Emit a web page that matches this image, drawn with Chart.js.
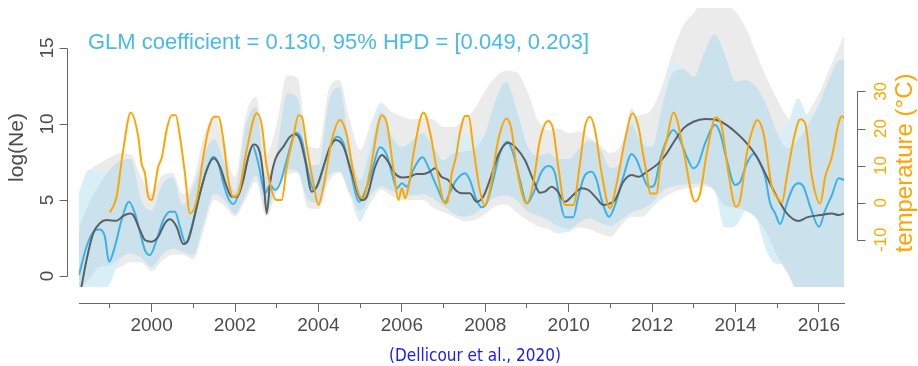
<!DOCTYPE html>
<html>
<head>
<meta charset="utf-8">
<title>log(Ne) and temperature</title>
<script src="https://cdn.jsdelivr.net/npm/chart.js@4.4.1/dist/chart.umd.min.js"></script>
<style>
	html, body { margin: 0; padding: 0; background: #fff; }
	#wrap { width: 918px; height: 366px; }
</style>
</head>
<body>
<div id="wrap"><canvas id="ne-chart" width="918" height="366"></canvas></div>
<script>
/**
 * log(Ne) skyline vs. temperature, R-style axes drawn next to the plot box.
 */
'use strict';

// Shared x positions of the HPD bands.
var bandYears = [
	1998.26, 1998.5, 1998.75, 1999, 1999.25, 1999.5, 1999.75, 2000, 2000.25, 2000.5, 2000.75,
	2001, 2001.25, 2001.5, 2001.75, 2002, 2002.25, 2002.5, 2002.75, 2003, 2003.25, 2003.5, 2003.75,
	2004, 2004.25, 2004.5, 2004.75, 2005, 2005.25, 2005.5, 2005.75, 2006, 2006.25, 2006.5, 2006.75,
	2007, 2007.25, 2007.5, 2007.75, 2008, 2008.25, 2008.5, 2008.75, 2009, 2009.25, 2009.5, 2009.75,
	2010, 2010.25, 2010.5, 2010.75, 2011, 2011.25, 2011.5, 2011.75, 2012, 2012.25, 2012.5, 2012.75,
	2013, 2013.25, 2013.5, 2013.75, 2014, 2014.25, 2014.5, 2014.75, 2015, 2015.25, 2015.5, 2015.75,
	2016, 2016.25, 2016.5, 2016.6
];
var greyUpper = [
	4.5, 6.8, 7.4, 7.8, 8.1, 8.0, 6.5, 5.5, 6.6, 6.8, 5.4,
	6.3, 9.2, 10.6, 8.5, 6.5, 10.5, 11.8, 8.0, 10.0, 13.2, 13.0, 8.6,
	8.4, 12.3, 12.9, 10.3, 8.3, 10.0, 11.4, 10.8, 10.5, 10.3, 10.4, 10.3,
	9.8, 9.8, 10.3, 11.0, 12.2, 13.1, 13.5, 13.4, 12.2, 10.3, 9.6, 9.7,
	9.4, 9.5, 9.1, 8.6, 8.1, 8.6, 10.4, 10.6, 11.0, 12.6, 14.8, 16.5,
	17.3, 18.2, 18.2, 17.8, 17.4, 16.3, 14.6, 13.0, 11.6, 10.4, 9.8, 10.8,
	12.0, 13.6, 15.2, 15.8
];
var greyLower = [
	-1.0, -1.0, -0.3, 0.3, 0.6, 0.9, 0.9, 0.3, 1.0, 1.4, 1.4,
	1.1, 3.0, 5.0, 4.6, 3.9, 5.0, 6.2, 3.9, 5.5, 6.7, 6.8, 4.5,
	4.4, 6.2, 6.8, 5.3, 3.7, 4.8, 5.7, 5.3, 5.0, 5.0, 5.0, 4.5,
	4.2, 3.9, 3.6, 3.7, 4.1, 4.6, 4.7, 4.2, 3.7, 3.3, 3.1, 2.8,
	3.0, 3.2, 3.1, 2.8, 2.6, 3.3, 3.9, 3.9, 4.5, 5.1, 5.5, 5.75,
	5.8, 5.9, 5.7, 5.4, 5.0, 4.5, 3.9, 2.9, 2.0, 1.5, 0.2, -1.0,
	-1.0, -1.0, -1.0, -1.0
];
var cyanUpper = [
	5.5, 7.0, 6.8, 7.0, 7.6, 7.7, 5.0, 4.3, 6.0, 6.5, 4.7,
	5.9, 7.9, 9.0, 7.4, 5.6, 9.8, 11.1, 6.5, 8.2, 12.0, 11.7, 7.3,
	7.3, 11.5, 12.4, 8.6, 6.3, 9.5, 11.3, 9.6, 8.5, 8.9, 9.4, 8.5,
	7.6, 9.0, 9.4, 9.2, 9.4, 11.6, 12.8, 11.0, 8.6, 7.9, 8.1, 7.7,
	7.7, 8.4, 8.9, 8.4, 7.1, 7.5, 11.0, 9.5, 8.5, 11.6, 14.1, 13.6,
	13.1, 14.7, 15.9, 14.5, 12.8, 12.9, 12.4, 11.2, 9.4, 10.0, 11.7, 10.5,
	11.3, 13.0, 14.2, 14.2
];
var cyanLower = [
	-1.0, -1.0, -1.0, -0.5, 1.2, 1.5, 1.2, 0.6, 1.4, 1.8, 1.6,
	1.4, 3.5, 5.4, 5.0, 4.1, 5.3, 6.6, 4.3, 5.9, 7.0, 6.9, 5.0,
	4.8, 6.6, 6.9, 5.5, 3.6, 5.3, 5.9, 5.6, 5.4, 5.3, 5.4, 5.1,
	4.6, 4.1, 3.9, 4.1, 4.7, 5.2, 5.3, 5.0, 4.3, 4.0, 3.7, 3.0,
	2.9, 3.5, 3.8, 3.5, 3.3, 3.7, 4.2, 4.4, 4.8, 5.6, 5.9, 6.0,
	6.05, 6.1, 5.6, 3.2, 3.3, 4.3, 3.8, 1.6, 0.8, 0.8, -1.0, -1.0,
	-1.0, -1.0, -1.0, -1.0
];
var blueUpper = [
	3.2, 4.8, 6.0, 7.0, 7.6, 7.7, 5.0, 4.3, 6.0, 6.5, 4.7,
	5.9, 7.9, 9.0, 7.4, 5.6, 9.8, 11.1, 6.5, 8.2, 12.0, 11.7, 7.3,
	7.3, 11.5, 12.4, 8.6, 6.3, 8.4, 10.8, 9.2, 8.5, 8.9, 9.4, 8.5,
	7.6, 8.1, 8.2, 8.4, 9.4, 11.6, 12.8, 11.0, 8.6, 7.9, 8.1, 7.7,
	7.7, 8.4, 8.9, 8.4, 7.1, 7.5, 10.0, 8.7, 8.5, 11.3, 13.4, 13.6,
	13.1, 14.7, 15.9, 14.5, 12.8, 12.9, 12.4, 11.2, 9.4, 8.4, 9.0, 10.0,
	11.3, 13.0, 14.2, 14.2
];
var blueLower = [
	-1.0, -0.2, 0.6, 0.7, 1.2, 1.5, 1.2, 0.6, 1.4, 1.8, 1.6,
	1.4, 3.5, 5.4, 5.0, 4.1, 5.3, 6.6, 4.3, 5.9, 7.0, 6.9, 5.0,
	4.8, 6.6, 6.9, 5.5, 4.3, 5.3, 5.9, 5.6, 5.4, 5.3, 5.4, 5.1,
	4.6, 4.1, 3.9, 4.1, 4.7, 5.2, 5.3, 5.0, 4.3, 4.0, 3.7, 3.3,
	3.1, 3.5, 3.8, 3.5, 3.3, 3.7, 4.2, 4.4, 4.8, 5.6, 5.9, 6.0,
	6.05, 6.1, 5.6, 4.6, 4.5, 4.3, 3.8, 2.8, 1.3, 0.2, -1.0, -1.0,
	-1.0, -1.0, -1.0, -1.0
];

// Median log(Ne), light blue line.
var blueYears = [
	1998.26, 1998.44, 1998.64, 1998.76, 1998.88, 1998.98, 1999.12, 1999.28, 1999.46, 1999.6,
	1999.72, 1999.84, 1999.96, 2000.12, 2000.28, 2000.44, 2000.56, 2000.68, 2000.82, 2000.92,
	2001.12, 2001.32, 2001.48, 2001.6, 2001.72, 2001.84, 2001.96, 2002.12, 2002.28, 2002.42,
	2002.56, 2002.72, 2002.84, 2002.96, 2003.08, 2003.24, 2003.4, 2003.46, 2003.6, 2003.76,
	2003.89, 2004, 2004.2, 2004.45, 2004.6, 2004.76, 2004.98, 2005.16, 2005.31, 2005.47,
	2005.64, 2005.76, 2005.88, 2006, 2006.12, 2006.27, 2006.5, 2006.63, 2006.84, 2007.03,
	2007.15, 2007.31, 2007.51, 2007.63, 2007.79, 2007.91, 2008.03, 2008.19, 2008.35, 2008.53,
	2008.67, 2008.83, 2009, 2009.15, 2009.35, 2009.51, 2009.67, 2009.79, 2009.91, 2010.11,
	2010.23, 2010.39, 2010.55, 2010.67, 2010.79, 2010.97, 2011.11, 2011.31, 2011.51, 2011.63,
	2011.75, 2011.91, 2011.99, 2012.07, 2012.19, 2012.35, 2012.51, 2012.67, 2012.83, 2012.99,
	2013.11, 2013.27, 2013.51, 2013.63, 2013.79, 2013.99, 2014.11, 2014.27, 2014.43, 2014.55,
	2014.71, 2014.83, 2014.95, 2015.07, 2015.23, 2015.39, 2015.51, 2015.63, 2015.79, 2016,
	2016.15, 2016.31, 2016.47, 2016.6
];
var blueLine = [
	0.07, 1.93, 3.0, 3.07, 2.6, 0.94, 1.93, 3.68, 4.89, 4.12,
	2.91, 1.71, 1.38, 2.37, 3.68, 4.23, 4.23, 3.24, 2.15, 2.81,
	5.0, 6.97, 7.85, 7.41, 6.1, 5.11, 4.74, 5.66, 7.41, 8.55,
	7.4, 5.44, 5.99, 5.66, 6.1, 7.63, 9.17, 9.43, 8.95, 6.76,
	5.66, 6.1, 7.85, 9.17, 8.73, 6.97, 4.89, 5.88, 7.19, 8.47,
	7.96, 6.76, 5.77, 6.1, 5.88, 6.97, 7.81, 7.19, 5.88, 4.85,
	5.5, 6.32, 6.76, 6.32, 5.0, 4.52, 4.78, 6.32, 8.07, 8.84,
	8.07, 6.32, 4.78, 5.44, 6.86, 7.24, 6.76, 5.0, 3.86, 3.86,
	5.22, 6.64, 6.86, 6.32, 5.0, 3.9, 4.67, 6.53, 8.03, 7.63,
	6.8, 5.88, 5.88, 6.1, 7.63, 8.95, 9.6, 8.95, 7.85, 7.09,
	7.41, 8.73, 9.93, 9.39, 7.63, 5.99, 6.2, 7.41, 8.03, 7.63,
	6.53, 4.78, 4.12, 3.42, 4.78, 5.88, 6.1, 5.88, 4.56, 3.24,
	4.34, 5.33, 6.43, 6.32
];

// Second log(Ne) estimate, dark grey line.
var greyYears = [
	1998.26, 1998.44, 1998.6, 1998.76, 1998.92, 1999.16, 1999.32, 1999.48, 1999.56, 1999.72,
	1999.84, 2000, 2000.16, 2000.32, 2000.44, 2000.6, 2000.76, 2000.88, 2001, 2001.16,
	2001.32, 2001.49, 2001.64, 2001.8, 2001.92, 2002.04, 2002.2, 2002.32, 2002.44, 2002.6,
	2002.68, 2002.76, 2002.84, 2002.96, 2003.16, 2003.32, 2003.44, 2003.56, 2003.68, 2003.84,
	2003.96, 2004.12, 2004.28, 2004.42, 2004.6, 2004.8, 2005.04, 2005.16, 2005.36, 2005.52,
	2005.67, 2005.83, 2006, 2006.19, 2006.35, 2006.51, 2006.67, 2006.79, 2006.95, 2007.11,
	2007.31, 2007.47, 2007.63, 2007.79, 2007.95, 2008.11, 2008.31, 2008.55, 2008.75, 2008.95,
	2009.15, 2009.31, 2009.43, 2009.59, 2009.71, 2009.91, 2010.11, 2010.31, 2010.47, 2010.67,
	2010.83, 2010.99, 2011.11, 2011.31, 2011.51, 2011.67, 2011.87, 2012.15, 2012.35, 2012.55,
	2012.75, 2012.99, 2013.27, 2013.55, 2013.79, 2014.03, 2014.27, 2014.51, 2014.75, 2014.99,
	2015.23, 2015.51, 2015.71, 2016.03, 2016.31, 2016.47, 2016.6
];
var greyLine = [
	-1.6, 1.05, 2.81, 3.47, 3.68, 3.64, 3.95, 4.12, 4.01, 3.03,
	2.37, 2.26, 2.59, 3.47, 3.73, 3.24, 2.1, 2.37, 3.57, 5.44,
	6.97, 7.74, 7.19, 5.88, 5.22, 5.22, 6.32, 7.85, 8.66, 8.07,
	6.5, 4.12, 6.1, 7.63, 8.51, 9.17, 9.32, 8.95, 7.63, 5.55,
	5.88, 7.19, 8.51, 8.95, 8.51, 6.76, 5.0, 5.22, 7.19, 7.96,
	7.52, 6.76, 6.49, 6.53, 6.71, 6.71, 6.86, 7.09, 6.53, 6.32,
	5.6, 5.44, 5.44, 4.89, 5.22, 6.32, 7.96, 8.77, 8.4, 7.63,
	6.32, 5.48, 5.55, 5.88, 5.66, 4.89, 5.33, 5.77, 5.66, 5.11,
	4.67, 4.78, 5.0, 6.2, 6.64, 6.53, 6.85, 7.41, 8.07, 8.95,
	9.71, 10.15, 10.33, 10.26, 9.93, 9.39, 8.73, 7.85, 6.53, 5.22,
	4.12, 3.62, 3.86, 4.01, 4.12, 4.01, 4.12
];

// Monthly-ish temperature (°C), orange line on the right axis.
var tempYears = [
	1999, 1999.16, 1999.32, 1999.5, 1999.68, 1999.76, 1999.84, 1999.92, 2000, 2000.16,
	2000.25, 2000.36, 2000.48, 2000.58, 2000.68, 2000.8, 2000.92, 2001.08, 2001.24, 2001.36,
	2001.5, 2001.6, 2001.72, 2001.84, 2001.96, 2002.08, 2002.28, 2002.52, 2002.64, 2002.76,
	2003, 2003.12, 2003.24, 2003.4, 2003.52, 2003.6, 2003.72, 2003.88, 2004, 2004.12,
	2004.32, 2004.52, 2004.68, 2004.84, 2005, 2005.07, 2005.24, 2005.52, 2005.64, 2005.8,
	2005.92, 2006, 2006.08, 2006.16, 2006.28, 2006.52, 2006.68, 2006.84, 2007.04, 2007.1,
	2007.2, 2007.3, 2007.39, 2007.52, 2007.6, 2007.71, 2007.87, 2007.99, 2008.11, 2008.31,
	2008.51, 2008.63, 2008.75, 2008.99, 2009.15, 2009.31, 2009.51, 2009.63, 2009.75, 2009.91,
	2010.11, 2010.27, 2010.39, 2010.51, 2010.63, 2010.79, 2010.99, 2011.15, 2011.35, 2011.53,
	2011.67, 2011.8, 2011.87, 2011.95, 2012.11, 2012.19, 2012.35, 2012.51, 2012.6, 2012.75,
	2013.03, 2013.15, 2013.31, 2013.53, 2013.67, 2013.83, 2014.01, 2014.11, 2014.27, 2014.43,
	2014.52, 2014.67, 2014.87, 2014.99, 2015.11, 2015.23, 2015.39, 2015.55, 2015.67, 2015.83,
	2016.03, 2016.15, 2016.31, 2016.47, 2016.55, 2016.6
];
var tempValues = [
	-2.7, 1.6, 14.2, 24.3, 17.8, 10.6, 7.9, 1.6, 0.7, 9.7,
	12.4, 19.6, 23.6, 23.6, 17.8, 7.9, -2.9, 0.7, 12.4, 19.6,
	23.2, 23.2, 16.9, 6.1, 1.6, 2.5, 14.2, 24.1, 21.0, 9.7,
	0.7, 0.7, 9.7, 17.8, 23.6, 23.2, 15.1, 5.2, -0.6, 4.3,
	16.9, 22.3, 18.2, 7.9, 1.6, 1.2, 8.8, 23.6, 21.4, 8.8,
	0.7, 3.9, 1.2, 4.3, 13.3, 24.3, 18.7, 8.8, -0.2, 0.5,
	8.0, 12.5, 18.7, 23.4, 23.4, 15.1, 3.4, -0.8, 3.4, 16.9,
	22.7, 19.6, 9.7, -0.2, 5.2, 16.9, 22.0, 19.6, 9.7, -0.6,
	-0.6, 10.6, 20.5, 23.2, 19.6, 7.9, -1.5, 5.2, 16.9, 24.1,
	20.5, 12.0, 7.9, 2.5, 2.5, 9.7, 16.9, 24.3, 22.3, 14.2,
	0.3, 2.5, 13.3, 23.0, 20.5, 7.9, -1.1, 0.7, 13.3, 20.5,
	22.3, 18.7, 4.3, 1.6, 0.0, 7.0, 16.9, 22.5, 21.4, 7.0,
	-0.2, 7.0, 12.4, 21.4, 23.4, 22.7
];

// Axes.
var tickYears  = [1999, 2000, 2001, 2002, 2003, 2004, 2005, 2006, 2007, 2008, 2009, 2010, 2011, 2012, 2013, 2014, 2015, 2016];
var labelYears = [2000, 2002, 2004, 2006, 2008, 2010, 2012, 2014, 2016];
var neTicks    = [0, 5, 10, 15];
var tempTicks  = [-10, 0, 10, 20, 30];

var glmText    = 'GLM coefficient = 0.130, 95% HPD = [0.049, 0.203]';
var sourceText = '(Dellicour et al., 2020)';

var FONT = '"Liberation Sans", Arial, Helvetica, sans-serif';
var AXIS_GREY = '#666666';
var TEXT_GREY = '#4d4d4d';
var ORANGE = '#ffa500';
var SKY = '#3db1e3';

function pts(xs, ys) {
	return xs.map(function (x, i) { return { x: x, y: ys[i] }; });
}

function band(label, ys, color, order, target) {
	return {
		label: label,
		data: pts(bandYears, ys),
		xAxisID: 'x',
		yAxisID: 'y',
		borderWidth: 0,
		borderColor: 'rgba(0,0,0,0)',
		backgroundColor: color,
		pointRadius: 0,
		cubicInterpolationMode: 'monotone',
		fill: target === undefined ? false : { target: target },
		order: order,
	};
}

function line(label, xs, ys, color, axis, order) {
	return {
		label: label,
		data: pts(xs, ys),
		xAxisID: 'x',
		yAxisID: axis,
		borderColor: color,
		borderWidth: 2,
		pointRadius: 0,
		cubicInterpolationMode: 'monotone',
		fill: false,
		order: order,
	};
}

function vText(ctx, text, x, y) {
	ctx.save();
	ctx.translate(x, y);
	ctx.rotate(-Math.PI / 2);
	ctx.fillText(text, 0, 0);
	ctx.restore();
}

function sideAxis(ctx, scale, ticks, x, dir) {
	var lo = Math.round(scale.getPixelForValue(ticks[0])) + 0.5;
	var hi = Math.round(scale.getPixelForValue(ticks[ticks.length - 1])) + 0.5;
	ctx.beginPath();
	ctx.moveTo(x, lo);
	ctx.lineTo(x, hi);
	ticks.forEach(function (v) {
		var py = Math.round(scale.getPixelForValue(v)) + 0.5;
		ctx.moveTo(x, py);
		ctx.lineTo(x + dir * 8, py);
	});
	ctx.stroke();
}

// R-style side axes (offset from the plot box, spanning only the ticks) + texts.
var sideAxes = {
	id: 'sideAxes',
	afterDraw: function (chart) {
		var ctx = chart.ctx;
		var area = chart.chartArea;
		var ne = chart.scales.y;
		var temp = chart.scales.yT;
		var lx = Math.round(area.left - 12) + 0.5;
		var rx = Math.round(area.right + 13) + 0.5;

		ctx.save();
		ctx.lineWidth = 1;
		ctx.strokeStyle = AXIS_GREY;
		sideAxis(ctx, ne, neTicks, lx, -1);
		sideAxis(ctx, temp, tempTicks, rx, 1);

		ctx.textAlign = 'center';
		ctx.textBaseline = 'alphabetic';

		ctx.fillStyle = TEXT_GREY;
		ctx.font = '19px ' + FONT;
		neTicks.forEach(function (v) { vText(ctx, String(v), lx - 15, ne.getPixelForValue(v)); });
		ctx.font = '21px ' + FONT;
		vText(ctx, 'log(Ne)', 23, (area.top + area.bottom) / 2);

		ctx.fillStyle = ORANGE;
		ctx.font = '17px ' + FONT;
		tempTicks.forEach(function (v) { vText(ctx, String(v), rx + 28, temp.getPixelForValue(v)); });
		ctx.font = '24px ' + FONT;
		vText(ctx, 'temperature (°C)', 912, 163);

		ctx.textAlign = 'left';
		ctx.fillStyle = '#47bbea';
		ctx.font = '22px ' + FONT;
		ctx.fillText(glmText, area.left + 9, 49);

		ctx.textAlign = 'center';
		ctx.fillStyle = '#1a1aff';
		ctx.font = '17px "DejaVu Sans Condensed", "Liberation Sans Narrow", "DejaVu Sans", sans-serif';
		ctx.fillText(sourceText, 475, 361);
		ctx.restore();
	},
};

var xMin = 1998.26;
var xMax = 2016.6;

new Chart(document.getElementById('ne-chart'), {
	type: 'line',
	data: {
		datasets: [
			line('temperature', tempYears, tempValues, ORANGE, 'yT', 0),
			line('log(Ne) grey', greyYears, greyLine, '#5a6066', 'y', 1),
			line('log(Ne) median', blueYears, blueLine, SKY, 'y', 2),
			band('blue low', blueLower, 'rgba(0,0,0,0)', 3),
			band('blue up', blueUpper, '#cbe2ec', 3, 3),
			band('cyan low', cyanLower, 'rgba(0,0,0,0)', 4),
			band('cyan up', cyanUpper, '#d8eff8', 4, 5),
			band('grey low', greyLower, 'rgba(0,0,0,0)', 5),
			band('grey up', greyUpper, '#ebebeb', 5, 7),
		],
	},
	plugins: [sideAxes],
	options: {
		responsive: false,
		animation: false,
		events: [],
		layout: { padding: { left: 79, right: 74, top: 8, bottom: 79 } },
		plugins: {
			legend: { display: false },
			tooltip: { enabled: false },
		},
		scales: {
			x: {
				type: 'linear',
				min: xMin,
				max: xMax,
				position: { y: -1.78 },
				afterBuildTicks: function (scale) {
					scale.ticks = labelYears.map(function (v) { return { value: v }; });
				},
				ticks: {
					autoSkip: false,
					maxRotation: 0,
					minRotation: 0,
					padding: 3,
					color: TEXT_GREY,
					font: { family: FONT, size: 19 },
					callback: function (v) { return String(v); },
				},
				grid: { drawOnChartArea: false, tickLength: 8, tickColor: AXIS_GREY, tickWidth: 1 },
				border: { display: true, color: AXIS_GREY, width: 1 },
			},
			xMinor: {
				type: 'linear',
				min: xMin,
				max: xMax,
				position: { y: -1.78 },
				afterBuildTicks: function (scale) {
					scale.ticks = tickYears.map(function (v) { return { value: v }; });
				},
				ticks: { display: false },
				grid: { drawOnChartArea: false, tickLength: 5, tickColor: AXIS_GREY, tickWidth: 1 },
				border: { display: false },
			},
			y: { type: 'linear', display: false, min: -0.72, max: 17.63 },
			yT: { type: 'linear', display: false, min: -22.72, max: 52.48 },
		},
	},
});
</script>
</body>
</html>
